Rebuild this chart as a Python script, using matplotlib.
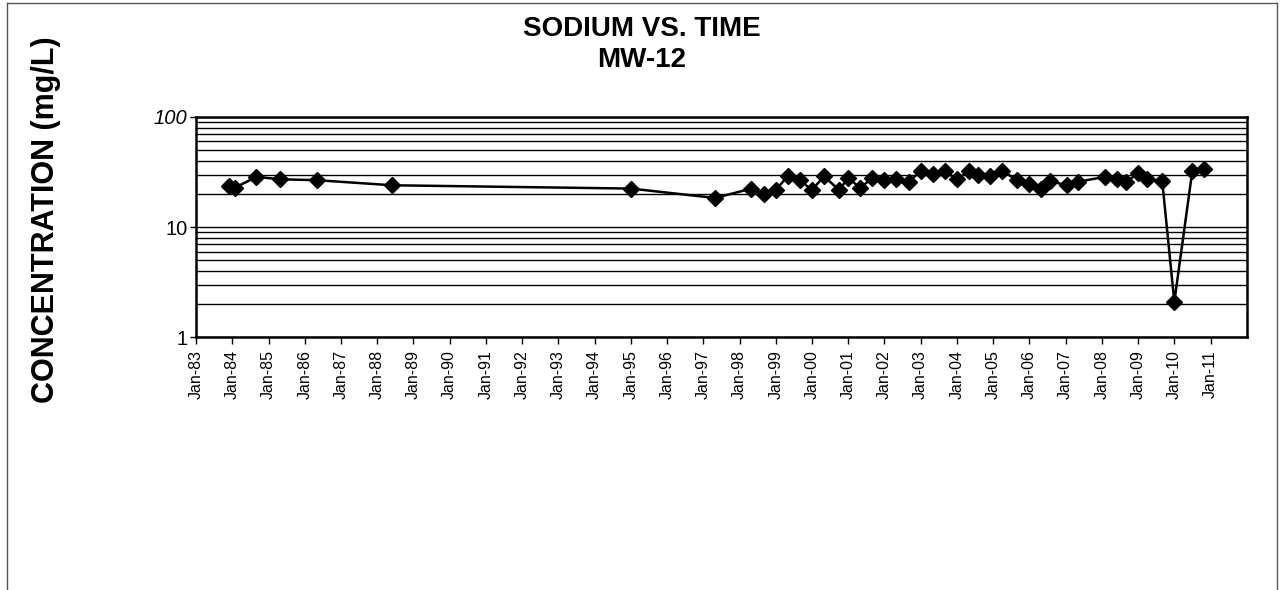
import matplotlib
matplotlib.use("Agg")
import matplotlib.pyplot as plt
import matplotlib.dates as mdates
from matplotlib.lines import Line2D
from matplotlib.ticker import FixedLocator, FixedFormatter, NullLocator
import pandas as pd

plt.rcParams['font.family'] = ['Liberation Sans', 'DejaVu Sans']

# Sampling dates and sodium concentrations (mg/L) for well MW-12
sample_dates = [
    "1983-12-01", "1984-02-01", "1984-09-01", "1985-05-01", "1986-05-01",
    "1988-06-01", "1995-01-01", "1997-05-01", "1998-05-01", "1998-09-01",
    "1999-01-01", "1999-05-01", "1999-09-01", "2000-01-01", "2000-05-01",
    "2000-10-01", "2001-01-01", "2001-05-01", "2001-09-01", "2002-01-01",
    "2002-05-01", "2002-09-01", "2003-01-01", "2003-05-01", "2003-09-01",
    "2004-01-01", "2004-05-01", "2004-08-01", "2004-12-01", "2005-04-01",
    "2005-09-01", "2006-01-01", "2006-05-01", "2006-08-01", "2007-01-15",
    "2007-05-01", "2008-02-01", "2008-06-01", "2008-09-01", "2009-01-01",
    "2009-04-01", "2009-09-01", "2010-01-01", "2010-07-01", "2010-11-01",
]
sodium_mg_l = [
    23.5, 22.9, 28.6, 27.2, 26.7,
    24.0, 22.4, 18.4, 22.4, 19.8,
    21.7, 29.0, 26.7, 21.7, 29.0,
    21.7, 28.0, 22.7, 28.0, 26.7,
    27.2, 25.8, 32.2, 30.2, 32.2,
    27.2, 32.2, 29.6, 29.0, 32.4,
    26.7, 24.9, 22.4, 26.1, 24.0,
    25.8, 28.6, 27.2, 25.8, 30.7,
    27.2, 26.1, 2.1, 32.2, 34.0,
]
y_ticks = [1, 10, 100]
y_tick_labels = ["1", "10", "100"]
x_tick_years = list(range(1983, 2012))

title_text = "SODIUM VS. TIME\nMW-12"
y_label_text = "CONCENTRATION (mg/L)"

dates = pd.to_datetime(sample_dates)

fig = plt.figure(figsize=(12.82, 5.90), dpi=100)
ax = fig.add_axes([0.1529, 0.4283, 0.9725 - 0.1529, 0.8017 - 0.4283])

ax.set_yscale("log")
ax.set_ylim(1, 100)
ax.set_xlim(pd.Timestamp("1983-01-01"), pd.Timestamp("2012-01-01"))

# Horizontal grid at every decade subdivision
grid_vals = [m * 10 ** e for e in (0, 1) for m in range(1, 10)] + [100]
for g in grid_vals:
    ax.axhline(g, color="black", lw=1.0, zorder=1)

ax.plot(dates, sodium_mg_l, color="black", lw=1.8, marker="D",
        markersize=8.5, markerfacecolor="black", markeredgecolor="black",
        zorder=3, clip_on=False)

# Y axis: decades only
ax.yaxis.set_major_locator(FixedLocator(y_ticks))
ax.yaxis.set_major_formatter(FixedFormatter(y_tick_labels))
ax.yaxis.set_minor_locator(NullLocator())
ax.tick_params(axis="y", which="major", direction="out", length=4.5,
               width=1, labelsize=14.5, pad=1.5)
for lbl in ax.get_yticklabels():
    if lbl.get_text() == "100":
        lbl.set_fontstyle("italic")

# X axis: one tick per January
x_ticks = [pd.Timestamp(f"{y}-01-01") for y in x_tick_years]
ax.set_xticks(x_ticks)
ax.xaxis.set_major_formatter(mdates.DateFormatter("%b-%y"))
ax.xaxis.set_minor_locator(NullLocator())
ax.tick_params(axis="x", which="major", direction="out", length=5,
               width=1, labelsize=11.5, pad=4)
plt.setp(ax.get_xticklabels(), rotation=90, ha="center", va="top")

for s in ax.spines.values():
    s.set_color("black")
    s.set_linewidth(1.8)

fig.text(0.5005, 0.924, title_text, ha="center", va="center",
         fontsize=20, fontweight="bold", linespacing=1.25)
fig.text(0.036, 0.627, y_label_text, rotation=90, ha="center",
         va="center", fontsize=22, fontweight="bold")

# Outer frame around the chart sheet
frame_kw = dict(color="#555555", lw=1.0, transform=fig.transFigure)
fig.add_artist(Line2D([7 / 1282, 1277 / 1282], [1 - 3 / 590, 1 - 3 / 590], **frame_kw))
fig.add_artist(Line2D([7 / 1282, 7 / 1282], [0, 1 - 3 / 590], **frame_kw))
fig.add_artist(Line2D([1277 / 1282, 1277 / 1282], [0, 1 - 3 / 590], **frame_kw))

fig.savefig("out.png", dpi=100, facecolor="white")
